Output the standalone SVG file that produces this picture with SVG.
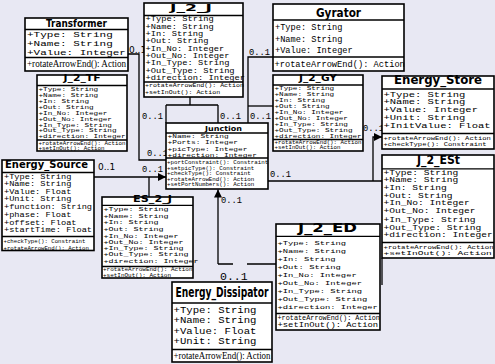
<svg xmlns="http://www.w3.org/2000/svg" width="495" height="364" viewBox="0 0 495 364">
<style>
  .bg { fill: #e8e8f3; }
  .box { fill: #ffffff; stroke: #000; stroke-width: 1.6; }
  .sep { stroke: #000; stroke-width: 1.3; fill: none; }
  .ttl { font-family: "DejaVu Sans", "Liberation Sans", sans-serif; font-weight: bold; text-anchor: middle; fill: #000; }
  .m { font-family: "Liberation Mono", "DejaVu Sans Mono", monospace; fill: #000; }
  .sf { font-family: "Liberation Serif", serif; fill: #000; }
  .lbl { font-family: "Liberation Mono", monospace; font-size: 8.75px; fill: #000; }
  .lbls { font-family: "DejaVu Sans", sans-serif; font-size: 9px; fill: #000; }
  .wire { stroke: #000; stroke-width: 1.3; fill: none; }
</style>
<defs>
  <marker id="head" viewBox="0 0 10 10" refX="10" refY="5" markerWidth="8" markerHeight="8" orient="auto" markerUnits="userSpaceOnUse">
    <path d="M0,0 L10,5 L0,10 Z" fill="#000"/>
  </marker>
</defs>
<rect class="bg" x="0" y="0" width="495" height="364"/>

<!-- associations -->
<g id="connectors">
  <path class="wire" d="M128,54 H139 V160 H166"/>
  <path class="wire" d="M190,97 V105 M166,105 H218 M166,105 V123 M218,105 V123"/>
  <path class="wire" d="M273,57 H248 V123"/>
  <path class="wire" d="M273,106 H248"/>
  <path class="wire" d="M94,177 H166" marker-end="url(#head)"/>
  <path class="wire" d="M149,177 V197"/>
  <path class="wire" d="M268,181 H382"/>
  <path class="wire" d="M373,181 V137 H382" marker-end="url(#head)"/>
  <path class="wire" d="M218,264 V189.5" marker-end="url(#head)"/>
  <path class="wire" d="M218,264 H233 M247,264 H276"/>
  <path class="wire" d="M382,258 V285"/>
  <text class="lbls" x="129" y="53">0..1</text>
  <text class="lbl" x="142" y="119">0..1</text>
  <text class="lbl" x="220" y="119">0..1</text>
  <text class="lbl" x="250" y="119">0..1</text>
  <text class="lbl" x="249" y="55">0..1</text>
  <text class="lbls" x="98" y="170">0..1</text>
  <text class="lbl" x="142" y="172">0..1</text>
  <text class="lbl" x="147" y="156">0..1</text>
  <text class="lbl" x="270" y="177">0..1</text>
  <text class="lbl" x="363" y="131">0..1</text>
  <text class="lbl" x="221" y="203">0..1</text>
  <text class="m" x="220" y="280" font-size="11.5">0..1</text>
</g>

<g id="Transformer">
  <rect class="box" x="25" y="18" width="103" height="53"/>
  <text class="ttl" x="76.5" y="27" font-size="10" textLength="61" lengthAdjust="spacingAndGlyphs">Transformer</text>
  <line class="sep" x1="25" y1="29.5" x2="128" y2="29.5"/>
  <g class="m" font-size="8" transform="matrix(1.375,0,0,1,27,0)">
    <text x="0" y="37">+Type: String</text>
    <text x="0" y="46.2">+Name: String</text>
    <text x="0" y="55.3">+Value: Integer</text>
  </g>
  <line class="sep" x1="25" y1="57.5" x2="128" y2="57.5"/>
  <text class="sf" x="27" y="67" font-size="10" textLength="99" lengthAdjust="spacingAndGlyphs">+rotateArrowEnd(): Action</text>
</g>

<g id="J_2_J">
  <rect class="box" x="144" y="3" width="99" height="94"/>
  <text class="ttl" x="191" y="11" font-size="9.5" textLength="42" lengthAdjust="spacingAndGlyphs">J_2_J</text>
  <line class="sep" x1="144" y1="15.5" x2="243" y2="15.5"/>
  <g class="m" font-size="6.3" transform="matrix(1.39,0,0,1,145.5,0)">
    <text x="0" y="21.5">+Type: String</text>
    <text x="0" y="28.8">+Name: String</text>
    <text x="0" y="36.2">+In: String</text>
    <text x="0" y="43.5">+Out: String</text>
    <text x="0" y="50.8">+In_No: Integer</text>
    <text x="0" y="58.2">+Out_No: Integer</text>
    <text x="0" y="65.5">+In_Type: String</text>
    <text x="0" y="72.8">+Out_Type: String</text>
    <text x="0" y="80.2">+direction: Integer</text>
  </g>
  <line class="sep" x1="144" y1="82" x2="243" y2="82"/>
  <g class="m" font-size="6" transform="matrix(1.1,0,0,1,145,0)">
    <text x="0" y="87.5">+rotateArrowEnd(): Action</text>
    <text x="0" y="94.5">+setInOut(): Action</text>
  </g>
</g>

<g id="Gyrator">
  <rect class="box" x="273" y="4" width="131" height="67"/>
  <text class="ttl" x="338.5" y="16.5" font-size="12" textLength="45" lengthAdjust="spacingAndGlyphs">Gyrator</text>
  <line class="sep" x1="273" y1="20" x2="404" y2="20"/>
  <g class="m" font-size="9.6" transform="matrix(0.9,0,0,1,275,0)">
    <text x="0" y="30.5">+Type: String</text>
    <text x="0" y="42">+Name: String</text>
    <text x="0" y="53.3">+Value: Integer</text>
  </g>
  <line class="sep" x1="273" y1="57" x2="404" y2="57"/>
  <text class="m" x="274.5" y="66.5" font-size="8.7">+rotateArrowEnd(): Action</text>
</g>

<g id="J_2_TF">
  <rect class="box" x="37" y="75" width="90" height="76"/>
  <text class="ttl" x="82" y="81.3" font-size="9" textLength="37" lengthAdjust="spacingAndGlyphs">J_2_TF</text>
  <line class="sep" x1="37" y1="85.5" x2="127" y2="85.5"/>
  <g class="m" font-size="5.1" transform="matrix(1.5,0,0,1,38.5,0)">
    <text x="0" y="91.2">+Type: String</text>
    <text x="0" y="97.1">+Name: String</text>
    <text x="0" y="103">+In: String</text>
    <text x="0" y="108.9">+Out: String</text>
    <text x="0" y="114.8">+In_No: Integer</text>
    <text x="0" y="120.7">+Out_No: Integer</text>
    <text x="0" y="126.6">+In_Type: String</text>
    <text x="0" y="132.5">+Out_Type: String</text>
    <text x="0" y="138.4">+direction: Integer</text>
  </g>
  <line class="sep" x1="37" y1="140" x2="127" y2="140"/>
  <g class="m" font-size="4.8" transform="matrix(1.21,0,0,1,38.5,0)">
    <text x="0" y="144.6">+rotateArrowEnd(): Action</text>
    <text x="0" y="150">+setInOut(): Action</text>
  </g>
</g>

<g id="J_2_GY">
  <rect class="box" x="273" y="75" width="90" height="76"/>
  <text class="ttl" x="318" y="81" font-size="9" textLength="38" lengthAdjust="spacingAndGlyphs">J_2_GY</text>
  <line class="sep" x1="273" y1="85" x2="363" y2="85"/>
  <g class="m" font-size="5.1" transform="matrix(1.5,0,0,1,274.5,0)">
    <text x="0" y="89.6">+Type: String</text>
    <text x="0" y="95.6">+Name: String</text>
    <text x="0" y="101.6">+In: String</text>
    <text x="0" y="107.6">+Out: String</text>
    <text x="0" y="113.6">+In_No: Integer</text>
    <text x="0" y="119.6">+Out_No: Integer</text>
    <text x="0" y="125.6">+In_Type: String</text>
    <text x="0" y="131.6">+Out_Type: String</text>
    <text x="0" y="137.6">+direction: Integer</text>
  </g>
  <line class="sep" x1="273" y1="139.5" x2="363" y2="139.5"/>
  <g class="m" font-size="4.8" transform="matrix(1.21,0,0,1,274.5,0)">
    <text x="0" y="143.6">+rotateArrowEnd(): Action</text>
    <text x="0" y="149.2">+setInOut(): Action</text>
  </g>
</g>

<g id="Energy_Store">
  <rect class="box" x="382" y="76" width="112" height="73"/>
  <text class="ttl" x="438" y="84.3" font-size="12" textLength="88" lengthAdjust="spacingAndGlyphs">Energy_Store</text>
  <line class="sep" x1="382" y1="89" x2="494" y2="89"/>
  <g class="m" font-size="6.7" transform="matrix(1.57,0,0,1,383.5,0)">
    <text x="0" y="96.6">+Type: String</text>
    <text x="0" y="104.4">+Name: String</text>
    <text x="0" y="112.2">+Value: Integer</text>
    <text x="0" y="120">+Unit: String</text>
    <text x="0" y="127.8">+InitValue: Float</text>
  </g>
  <line class="sep" x1="382" y1="133.5" x2="494" y2="133.5"/>
  <g class="m" font-size="5.6" transform="matrix(1.28,0,0,1,383.5,0)">
    <text x="0" y="139.7">+rotateArrowEnd(): Action</text>
    <text x="0" y="146.2">+checkType(): Constraint</text>
  </g>
</g>

<g id="J_2_ESt">
  <rect class="box" x="382" y="155" width="112" height="103"/>
  <text class="ttl" x="438.5" y="164.3" font-size="12.5" font-weight="normal" textLength="43" lengthAdjust="spacingAndGlyphs">J_2_ESt</text>
  <line class="sep" x1="382" y1="168.8" x2="494" y2="168.8"/>
  <g class="m" font-size="6.8" transform="matrix(1.41,0,0,1,383.5,0)">
    <text x="0" y="174.9">+Type: String</text>
    <text x="0" y="182.5">+Name: String</text>
    <text x="0" y="190.1">+In: String</text>
    <text x="0" y="197.6">+Out: String</text>
    <text x="0" y="205.2">+In_No: Integer</text>
    <text x="0" y="213.4">+Out_No: Integer</text>
    <text x="0" y="221.6">+In_Type: String</text>
    <text x="0" y="229.7">+Out_Type: String</text>
    <text x="0" y="237.4">+direction: Integer</text>
  </g>
  <line class="sep" x1="382" y1="242.5" x2="494" y2="242.5"/>
  <text class="m" font-size="5.7" transform="matrix(1.29,0,0,1,383.5,248.7)">+rotateArrowEnd(): Action</text>
  <text class="m" font-size="5.7" transform="matrix(1.67,0,0,1,383.5,255.4)">+setInOut(): Action</text>
</g>

<g id="Junction">
  <rect class="box" x="166" y="123" width="102" height="66"/>
  <text class="ttl" x="223.5" y="130.8" font-size="7" textLength="37" lengthAdjust="spacingAndGlyphs">Junction</text>
  <line class="sep" x1="166" y1="133" x2="268" y2="133"/>
  <g class="m" font-size="5.3" transform="matrix(1.48,0,0,1,167.5,0)">
    <text x="0" y="137.9">+Name: String</text>
    <text x="0" y="144.4">+Ports: Integer</text>
    <text x="0" y="150.6">+picType: Integer</text>
    <text x="0" y="156.6">+direction: Integer</text>
  </g>
  <line class="sep" x1="166" y1="158" x2="268" y2="158"/>
  <g class="m" font-size="4.7" transform="matrix(1.24,0,0,1,167,0)">
    <text x="0" y="164.3">+portConstraint(): Constraint</text>
    <text x="0" y="169.9">+setpicType(): Constraint</text>
    <text x="0" y="175.2">+checkType(): Constraint</text>
    <text x="0" y="180.7">+rotateArrowEnd(): Action</text>
    <text x="0" y="186">+setPortNumbers(): Action</text>
  </g>
</g>

<g id="Energy_Source">
  <rect class="box" x="2" y="160" width="92" height="90.5"/>
  <text class="ttl" font-size="11" transform="matrix(0.907,0,0,1,46.5,168)" x="0" y="0">Energy_Source</text>
  <line class="sep" x1="2" y1="172.5" x2="94" y2="172.5"/>
  <g class="m" font-size="6.7" transform="matrix(1.29,0,0,1,4,0)">
    <text x="0" y="178.6">+Type: String</text>
    <text x="0" y="186.1">+Name: String</text>
    <text x="0" y="193.7">+Value: Float</text>
    <text x="0" y="201.5">+Unit: String</text>
    <text x="0" y="209.2">+function: String</text>
    <text x="0" y="216.8">+phase: Float</text>
    <text x="0" y="224.7">+offset: Float</text>
    <text x="0" y="232.4">+startTime: Float</text>
  </g>
  <line class="sep" x1="2" y1="236.5" x2="94" y2="236.5"/>
  <g class="m" font-size="5.7">
    <text x="3.5" y="243">+checkType(): Constraint</text>
    <text x="3.5" y="249.5">+rotateArrowEnd(): Action</text>
  </g>
</g>

<g id="ES_2_J">
  <rect class="box" x="102" y="197" width="91" height="81"/>
  <text class="ttl" x="152.5" y="202" font-size="8.5" textLength="39" lengthAdjust="spacingAndGlyphs">ES_2_J</text>
  <line class="sep" x1="102" y1="205.3" x2="193" y2="205.3"/>
  <g class="m" font-size="5.6" transform="matrix(1.49,0,0,1,103.5,0)">
    <text x="0" y="211">+Type: String</text>
    <text x="0" y="217.7">+Name: String</text>
    <text x="0" y="224.3">+In: String</text>
    <text x="0" y="231">+Out: String</text>
    <text x="0" y="237.7">+In_No: Integer</text>
    <text x="0" y="243.7">+Out_No: Integer</text>
    <text x="0" y="250.3">+In_Type: String</text>
    <text x="0" y="256.3">+Out_Type: String</text>
    <text x="0" y="262.7">+direction: Integer</text>
  </g>
  <line class="sep" x1="102" y1="266.5" x2="193" y2="266.5"/>
  <g class="m" font-size="4.9" transform="matrix(1.22,0,0,1,103,0)">
    <text x="0" y="271.2">+rotateArrowEnd(): Action</text>
    <text x="0" y="276.8">+setInOut(): Action</text>
  </g>
</g>

<g id="J_2_ED">
  <rect class="box" x="276" y="224" width="104" height="106"/>
  <text class="ttl" x="327.5" y="232" font-size="11.5" font-weight="normal" textLength="59" lengthAdjust="spacingAndGlyphs">J_2_ED</text>
  <line class="sep" x1="276" y1="236.3" x2="380" y2="236.3"/>
  <g class="m" font-size="6.2" transform="matrix(1.42,0,0,1,277.5,0)">
    <text x="0" y="244.6">+Type: String</text>
    <text x="0" y="252.65">+Name: String</text>
    <text x="0" y="260.7">+In: String</text>
    <text x="0" y="268.75">+Out: String</text>
    <text x="0" y="276.8">+In_No: Integer</text>
    <text x="0" y="284.85">+Out_No: Integer</text>
    <text x="0" y="292.9">+In_Type: String</text>
    <text x="0" y="300.95">+Out_Type: String</text>
    <text x="0" y="309">+direction: Integer</text>
  </g>
  <line class="sep" x1="276" y1="313.5" x2="380" y2="313.5"/>
  <text class="m" font-size="6.4" transform="matrix(1.07,0,0,1,277.5,319.6)">+rotateArrowEnd(): Action</text>
  <text class="m" font-size="6.4" transform="matrix(1.38,0,0,1,277.5,327.4)">+setInOut(): Action</text>
</g>

<g id="Energy_Dissipator">
  <rect class="box" x="172" y="282" width="100" height="80"/>
  <text class="ttl" x="222" y="296.5" font-size="13.5" textLength="93" lengthAdjust="spacingAndGlyphs">Energy_Dissipator</text>
  <line class="sep" x1="172" y1="303" x2="272" y2="303"/>
  <g class="m" font-size="8.8" transform="matrix(1.21,0,0,1,173.5,0)">
    <text x="0" y="313">+Type: String</text>
    <text x="0" y="323">+Name: String</text>
    <text x="0" y="333.7">+Value: Float</text>
    <text x="0" y="343.7">+Unit: String</text>
  </g>
  <line class="sep" x1="172" y1="349.5" x2="272" y2="349.5"/>
  <text class="sf" x="173.5" y="358.8" font-size="9.5" textLength="97" lengthAdjust="spacingAndGlyphs">+rotateArrowEnd(): Action</text>
</g>
</svg>
